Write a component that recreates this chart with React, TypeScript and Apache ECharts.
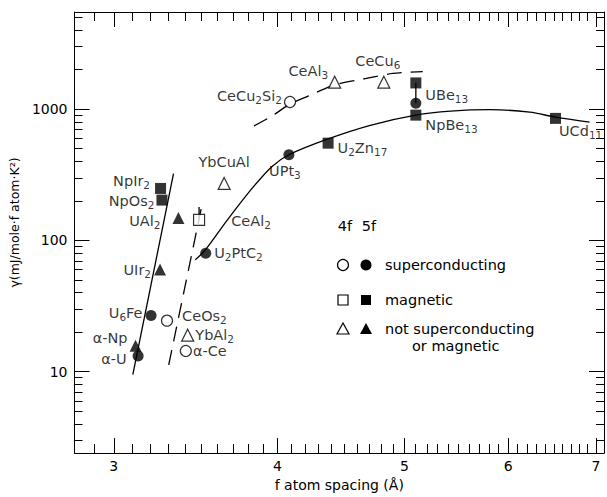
import React, { useEffect, useRef } from "react";
import * as echarts from "echarts";

// ---------- data ----------
const xTickLabels = [3, 4, 5, 6, 7];
const yTickLabels = [10, 100, 1000];
const xMinorTicks = [2.9, 3.1, 3.2, 3.3, 3.4, 3.5, 3.6, 3.7, 3.8, 3.9, 4.1, 4.2, 4.3, 4.4, 4.5, 4.6, 4.7, 4.8, 4.9, 5.1, 5.2, 5.3, 5.4, 5.5, 5.6, 5.7, 5.8, 5.9, 6.1, 6.2, 6.3, 6.4, 6.5, 6.6, 6.7, 6.8, 6.9, 7.0];
const yMinorTicks = [3, 4, 5, 6, 7, 8, 9, 20, 30, 40, 50, 60, 70, 80, 90, 200, 300, 400, 500, 600, 700, 800, 900, 2000, 3000, 4000, 5000];

// filled circles: 5f superconducting
const super5f = [
  { name: "α-U", x: 3.131, y: 13.2 },
  { name: "U6Fe", x: 3.203, y: 26.8 },
  { name: "U2PtC2", x: 3.526, y: 80 },
  { name: "UPt3", x: 4.081, y: 450 },
  { name: "UBe13", x: 5.101, y: 1110 },
];
// open circles: 4f superconducting
const super4f = [
  { name: "CeOs2", x: 3.294, y: 24.5 },
  { name: "α-Ce", x: 3.405, y: 14.4 },
  { name: "CeCu2Si2", x: 4.089, y: 1135 },
];
// filled squares: 5f magnetic
const magnetic5f = [
  { name: "NpIr2", x: 3.257, y: 249 },
  { name: "NpOs2", x: 3.265, y: 203 },
  { name: "U2Zn17", x: 4.372, y: 551 },
  { name: "UBe13 (upper)", x: 5.101, y: 1585 },
  { name: "NpBe13", x: 5.101, y: 901 },
  { name: "UCd11", x: 6.52, y: 851 },
];
// open squares: 4f magnetic
const magnetic4f = [{ name: "CeAl2", x: 3.485, y: 143.6 }];
// filled triangles: 5f neither
const other5f = [
  { name: "α-Np", x: 3.117, y: 15.8 },
  { name: "UIr2", x: 3.254, y: 60 },
  { name: "UAl2", x: 3.361, y: 148 },
];
// open triangles: 4f neither
const other4f = [
  { name: "YbAl2", x: 3.416, y: 19 },
  { name: "YbCuAl", x: 3.642, y: 272 },
  { name: "CeAl3", x: 4.423, y: 1607 },
  { name: "CeCu6", x: 4.822, y: 1607 },
];

// guide lines
const uLine = [[3.102, 9.5], [3.332, 323]];
const ceLine = [[3.304, 11.3], [3.505, 192]];
const ceAl2Bar = [[3.485, 143.6], [3.485, 180]];
const mainCurve = [
  [3.462, 71.3], [3.524, 84.7], [3.662, 142.9], [3.825, 249], [3.96, 365], [4.081, 450],
  [4.372, 594], [4.716, 757], [5.101, 901], [5.421, 966], [5.814, 991], [6.232, 949],
  [6.52, 870], [6.922, 798],
];
const ceCurve = [
  [3.838, 745], [3.96, 885], [4.087, 1091], [4.217, 1253], [4.436, 1545], [4.675, 1714],
  [4.899, 1871], [5.163, 1936],
];
const uBe13Bar = [[5.101, 1585], [5.101, 1110]];

// ---------- styles ----------
const FONT = "DejaVu Sans";
const FS = 14.5;
const X_MIN = 2.8;
const X_MAX = 7.1;
const Y_MIN = 2.4;
const Y_MAX = 5500;

type LP = { position: string; distance?: number; offset?: number[]; show?: boolean };
const labelPlace: Record<string, LP> = {
  "α-U": { position: "left", distance: 6, offset: [0, 3] },
  "U6Fe": { position: "left", distance: 3, offset: [0, -3] },
  "U2PtC2": { position: "right", distance: 3 },
  "UPt3": { position: "bottom", distance: 1, offset: [-4, 0] },
  "UBe13": { position: "right", distance: 4, offset: [0, -8] },
  "CeOs2": { position: "right", distance: 9, offset: [0, -5] },
  "α-Ce": { position: "right", distance: 1 },
  "CeCu2Si2": { position: "left", distance: 2, offset: [0, -6] },
  "NpIr2": { position: "left", distance: 5, offset: [0, -7] },
  "NpOs2": { position: "left", distance: 2, offset: [0, 1] },
  "U2Zn17": { position: "right", distance: 4, offset: [0, 5] },
  "UBe13 (upper)": { position: "right", show: false },
  "NpBe13": { position: "right", distance: 4, offset: [0, 10] },
  "UCd11": { position: "right", distance: 0, offset: [-2, 13] },
  "CeAl2": { position: "right", distance: 26, offset: [0, 1] },
  "α-Np": { position: "left", distance: 2, offset: [0, -8] },
  "UIr2": { position: "left", distance: 3 },
  "UAl2": { position: "left", distance: 12, offset: [0, 3] },
  "YbAl2": { position: "right", distance: 1 },
  "YbCuAl": { position: "top", distance: 5 },
  "CeAl3": { position: "left", distance: 0, offset: [0, -11] },
  "CeCu6": { position: "top", distance: 5, offset: [-6, 0] },
};

function richName(name: string): string {
  return name.replace(/(\d+)|([^\d]+)/g, (_m: string, d: string, t: string) => (d ? `{s|${d}}` : `{n|${t}}`));
}

const rich = {
  n: { fontSize: FS, fontFamily: FONT, color: "#000", lineHeight: 19 },
  s: { fontSize: 10.5, fontFamily: FONT, color: "#000", lineHeight: 10, verticalAlign: "bottom" },
};

function makeData(arr: { name: string; x: number; y: number }[]) {
  return arr.map((d) => {
    const lp = labelPlace[d.name] || { position: "right" };
    return {
      name: d.name,
      value: [d.x, d.y],
      label: {
        show: lp.show !== false,
        position: lp.position,
        distance: lp.distance ?? 5,
        offset: lp.offset ?? [0, 0],
        formatter: richName(d.name),
        rich,
      },
    };
  });
}

function scatter(arr: any[], symbol: string, filled: boolean, size: number) {
  return {
    type: "scatter",
    symbol,
    symbolSize: size,
    xAxisIndex: 0,
    yAxisIndex: 0,
    z: 5,
    itemStyle: filled
      ? { color: "#000", borderColor: "#000", borderWidth: 0 }
      : { color: "#fff", borderColor: "#000", borderWidth: 1.2 },
    label: { color: "#000", fontFamily: FONT, fontSize: FS },
    emphasis: { disabled: true },
    data: makeData(arr),
  };
}

function line(data: number[][], dashed: boolean, smooth: boolean | number) {
  return {
    type: "line",
    data,
    smooth,
    showSymbol: false,
    symbol: "none",
    xAxisIndex: 0,
    yAxisIndex: 0,
    z: 2,
    lineStyle: { color: "#000", width: 1.3, type: dashed ? [15, 9] : "solid" },
    emphasis: { disabled: true },
  };
}

function xAxisDef(pos: string, ticks: number[], len: number, labels: boolean, showLine: boolean) {
  return {
    type: "log",
    logBase: 10,
    min: X_MIN,
    max: X_MAX,
    position: pos,
    gridIndex: 0,
    name: labels ? "f atom spacing (Å)" : "",
    nameLocation: "middle",
    nameGap: 22,
    nameTextStyle: { color: "#000", fontFamily: FONT, fontSize: 14, verticalAlign: "top" },
    axisLine: { show: showLine, onZero: false, lineStyle: { color: "#000", width: 1 } },
    axisTick: { show: true, inside: true, length: len, customValues: ticks, lineStyle: { color: "#000", width: 1 } },
    axisLabel: labels
      ? { show: true, customValues: xTickLabels, color: "#000", fontFamily: FONT, fontSize: 14, margin: 6, formatter: (v: number) => String(Math.round(v)) }
      : { show: false },
    splitLine: { show: false },
    minorTick: { show: false },
  };
}

function yAxisDef(pos: string, ticks: number[], len: number, labels: boolean, showLine: boolean) {
  return {
    type: "log",
    logBase: 10,
    min: Y_MIN,
    max: Y_MAX,
    position: pos,
    gridIndex: 0,
    name: labels ? "γ(mJ/mole·f atom·K²)" : "",
    nameLocation: "middle",
    nameGap: 44,
    nameTextStyle: { color: "#000", fontFamily: FONT, fontSize: 12.5, padding: [0, 0, 0, 20] },
    axisLine: { show: showLine, onZero: false, lineStyle: { color: "#000", width: 1 } },
    axisTick: { show: true, inside: true, length: len, customValues: ticks, lineStyle: { color: "#000", width: 1 } },
    axisLabel: labels
      ? { show: true, customValues: yTickLabels, color: "#000", fontFamily: FONT, fontSize: 14, margin: 7, formatter: (v: number) => String(Math.round(v)) }
      : { show: false },
    splitLine: { show: false },
    minorTick: { show: false },
  };
}

function legendGraphics() {
  const t = (text: string, x: number, y: number, align = "left") => ({
    type: "text",
    x,
    y,
    style: { text, fill: "#000", fontFamily: FONT, fontSize: FS, verticalAlign: "middle", align },
  });
  const open = { fill: "#fff", stroke: "#000", lineWidth: 1.2 };
  const full = { fill: "#000" };
  const tri = (cx: number, cy: number) => [[cx, cy - 6], [cx - 6, cy + 5], [cx + 6, cy + 5]];
  const c1 = 343, c2 = 366, tx = 385;
  const r1 = 265, r2 = 300, r3 = 329;
  return [
    t("4f", 345, 226, "center"),
    t("5f", 369, 226, "center"),
    { type: "circle", shape: { cx: c1, cy: r1, r: 5.5 }, style: open },
    { type: "circle", shape: { cx: c2, cy: r1, r: 5.5 }, style: full },
    t("superconducting", tx, r1),
    { type: "rect", shape: { x: c1 - 5, y: r2 - 5, width: 10, height: 10 }, style: open },
    { type: "rect", shape: { x: c2 - 5, y: r2 - 5, width: 10, height: 10 }, style: full },
    t("magnetic", tx, r2),
    { type: "polygon", shape: { points: tri(c1, r3) }, style: open },
    { type: "polygon", shape: { points: tri(c2, r3) }, style: full },
    t("not superconducting", tx, r3),
    t("or magnetic", 412, r3 + 17),
  ];
}

export default function App() {
  const ref = useRef<HTMLDivElement>(null);
  useEffect(() => {
    if (!ref.current) return;
    const chart = echarts.init(ref.current, undefined, { renderer: "svg" });
    chart.setOption({
      animation: false,
      backgroundColor: "#fff",
      textStyle: { fontFamily: FONT },
      grid: { left: 73, right: 3, top: 12, bottom: 40, containLabel: false },
      xAxis: [
        xAxisDef("bottom", xMinorTicks, 9, true, true),
        xAxisDef("bottom", xTickLabels, 15, false, false),
        xAxisDef("top", xMinorTicks, 9, false, true),
        xAxisDef("top", xTickLabels, 15, false, false),
      ],
      yAxis: [
        yAxisDef("left", yMinorTicks, 8, true, true),
        yAxisDef("left", yTickLabels, 15, false, false),
        yAxisDef("right", yMinorTicks, 8, false, true),
        yAxisDef("right", yTickLabels, 15, false, false),
      ],
      series: [
        line(uLine, false, false),
        line(ceLine, true, false),
        line(ceAl2Bar, false, false),
        line(mainCurve, false, 0.3),
        line(ceCurve, true, 0.3),
        line(uBe13Bar, false, false),
        scatter(super5f, "circle", true, 11),
        scatter(super4f, "circle", false, 11),
        scatter(magnetic5f, "rect", true, 11),
        scatter(magnetic4f, "rect", false, 11),
        scatter(other5f, "triangle", true, 12),
        scatter(other4f, "triangle", false, 12),
      ],
      graphic: legendGraphics(),
    });
    return () => chart.dispose();
  }, []);
  return (
    <div
      ref={ref}
      style={{ position: "fixed", left: 0, top: 0, width: 607, height: 497, background: "#fff" }}
    />
  );
}
